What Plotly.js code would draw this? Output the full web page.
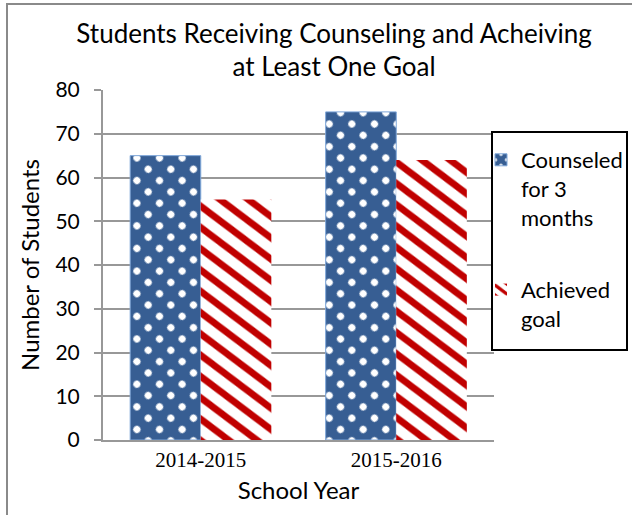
<!DOCTYPE html>
<html>
<head>
<meta charset="utf-8">
<script src="https://cdn.plot.ly/plotly-3.0.1.min.js"></script>
<style>
  html, body { margin: 0; padding: 0; background: #fff; overflow: hidden; }
  #chart { width: 632px; height: 515px; position: absolute; left: 0; top: 0; }
  #frame { position: absolute; left: 6px; top: 3px; width: 700px; height: 600px;
           border-left: 2px solid #8a8a8a; border-top: 2px solid #8a8a8a; pointer-events: none; }
</style>
</head>
<body>
<div id="chart"></div>
<div id="frame"></div>
<script>
const categories = ['2014-2015', '2015-2016'];
const counseled = [65, 75];
const achieved = [55, 64];
const seriesNames = ['Counseled<br>for 3<br>months', 'Achieved<br>goal'];
const chartTitle = 'Students Receiving Counseling and Acheiving<br>at Least One Goal';
const xTitle = 'School Year';
const yTitle = 'Number of Students';

const FONT = 'Lato, "Open Sans", sans-serif';
const GRID = '#989898';

const traces = [
  {
    type: 'bar', x: categories, y: counseled, name: seriesNames[0], legendgroup: 'a',
    marker: {
      color: '#375E93',
      line: { color: '#7EA6D8', width: 1 },
      pattern: { shape: '.', fgcolor: '#ffffff', bgcolor: '#375E93', size: 16, solidity: 0.16 }
    },
    hoverinfo: 'x+y'
  },
  {
    type: 'bar', x: categories, y: achieved, name: seriesNames[1], legendgroup: 'b',
    marker: {
      color: '#C00000',
      line: { color: '#ffffff', width: 0 },
      pattern: { shape: '\\', fgcolor: '#C00000', bgcolor: '#ffffff', size: 17, solidity: 0.4 }
    },
    hoverinfo: 'x+y'
  }
];

const L = 103, R = 494, T = 90, B = 440, W = 632, H = 515;
const px = v => (v - L) / (R - L);
const py = v => (B - v) / (B - T);

const layout = {
  width: W, height: H,
  margin: { l: L, r: W - R, t: T, b: H - B, pad: 0, autoexpand: false },
  paper_bgcolor: '#ffffff', plot_bgcolor: '#ffffff',
  font: { family: FONT, color: '#000000', size: 21 },
  title: {
    text: chartTitle, font: { family: FONT, size: 26, color: '#000' },
    x: 334 / W, xanchor: 'center', xref: 'container',
    y: 1 - 42.5 / H, yanchor: 'middle', yref: 'container'
  },
  barmode: 'group', bargap: 0.278, bargroupgap: 0,
  showlegend: true,
  legend: {
    x: px(481), xanchor: 'left', y: py(139), yanchor: 'top',
    bgcolor: 'rgba(0,0,0,0)', borderwidth: 0,
    font: { family: FONT, size: 22, color: '#000' },
    valign: 'top', tracegroupgap: 41
  },
  xaxis: {
    type: 'category', showgrid: false, zeroline: false,
    showline: true, linecolor: GRID, linewidth: 2, ticks: '',
    tickfont: { family: '"Liberation Serif", "Times New Roman", serif', size: 21, color: '#000' },
    title: { text: xTitle, font: { family: FONT, size: 24 }, standoff: 11 },
    fixedrange: true
  },
  yaxis: {
    range: [0, 80], dtick: 10, tick0: 0,
    showgrid: true, gridcolor: GRID, gridwidth: 2,
    zeroline: false, showline: true, linecolor: GRID, linewidth: 2,
    ticks: 'outside', ticklen: 7, tickcolor: GRID, tickwidth: 2,
    ticklabelstandoff: 10,
    tickfont: { family: FONT, size: 21, color: '#000' },
    title: { text: yTitle, font: { family: FONT, size: 24 }, standoff: 9 },
    fixedrange: true
  },
  shapes: [
    {
      type: 'rect', xref: 'paper', yref: 'paper',
      x0: px(492), x1: px(627), y0: py(350), y1: py(132),
      line: { color: '#000000', width: 2 }, fillcolor: '#ffffff', layer: 'above'
    }
  ]
};

Plotly.newPlot('chart', traces, layout, { displayModeBar: false, staticPlot: true }).then(gd => {
  gd.querySelectorAll('pattern').forEach(p => {
    const prev = p.getAttribute('patternTransform') || '';
    if (p.querySelector('circle')) {
      p.setAttribute('patternTransform', (prev + ' rotate(45)').trim());
    } else if (p.querySelector('path')) {
      p.setAttribute('patternTransform', (prev + ' rotate(-8)').trim());
    }
  });
});
</script>
</body>
</html>
